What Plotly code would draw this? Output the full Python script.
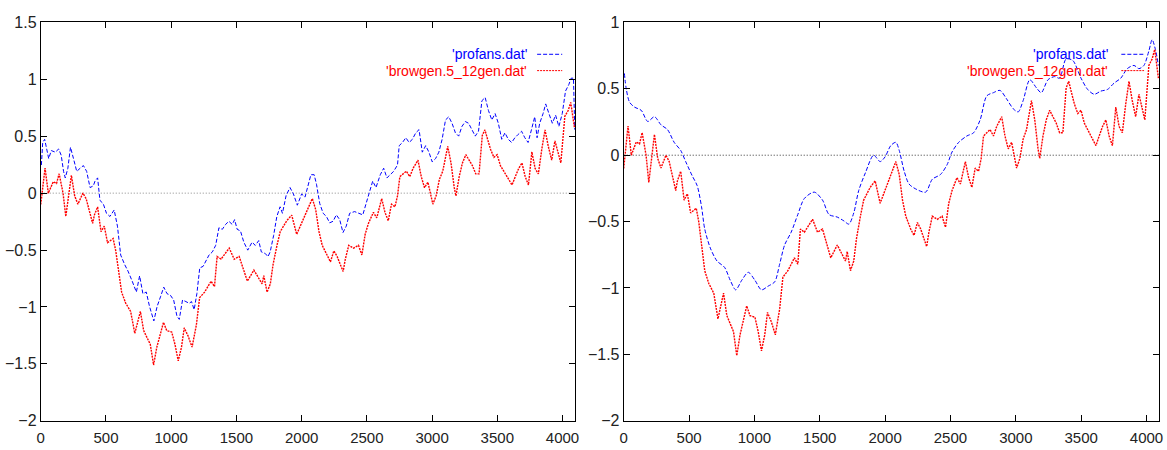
import plotly.graph_objects as go

# ---------------- data ----------------
# noisy series 'browgen.5_12gen.dat' (same in both panels)
red_x = [0, 33, 58, 96, 121, 141, 171, 192, 235, 260, 285, 323, 348, 373, 398, 411, 436, 462, 487, 512,
         555, 575, 595, 620, 651, 689, 721, 764, 789, 840, 865, 890, 941, 966, 1004, 1029, 1054, 1079, 1100, 1130,
         1160, 1193, 1218, 1256, 1306, 1332, 1352, 1382, 1445, 1483, 1521, 1559, 1584, 1634, 1672, 1697, 1710, 1735, 1760, 1781,
         1811, 1836, 1886, 1924, 1962, 2000, 2038, 2057, 2082, 2108, 2133, 2158, 2196, 2221, 2247, 2272, 2297, 2318, 2335, 2361,
         2399, 2436, 2462, 2487, 2512, 2550, 2576, 2614, 2639, 2664, 2689, 2715, 2735, 2753, 2778, 2803, 2829, 2854, 2892, 2917,
         2942, 2968, 3006, 3031, 3056, 3082, 3120, 3145, 3170, 3183, 3208, 3233, 3259, 3284, 3309, 3335, 3360, 3385, 3405, 3423,
         3448, 3474, 3499, 3524, 3550, 3575, 3613, 3638, 3664, 3689, 3714, 3739, 3765, 3790, 3815, 3841, 3866, 3891, 3917, 3942,
         3967, 3987, 4018, 4043, 4063, 4081, 4091]
red_y = [-0.10, 0.22, 0.00, 0.10, 0.085, 0.17, 0.00, -0.205, 0.157, -0.024, -0.097, 0.00, -0.048, -0.169, -0.266, -0.193, -0.121, -0.338, -0.29, -0.435,
         -0.399, -0.507, -0.676, -0.870, -0.966, -1.039, -1.232, -1.039, -1.208, -1.329, -1.510, -1.353, -1.135, -1.208, -1.220, -1.329, -1.473, -1.353, -1.184, -1.256,
         -1.353, -1.159, -0.918, -0.870, -0.773, -0.821, -0.556, -0.580, -0.483, -0.580, -0.556, -0.700, -0.773, -0.676, -0.749, -0.797, -0.725, -0.870, -0.797, -0.628,
         -0.459, -0.338, -0.242, -0.193, -0.362, -0.266, -0.169, -0.121, -0.048, -0.145, -0.338, -0.459, -0.556, -0.604, -0.507, -0.556, -0.628, -0.688, -0.580, -0.459,
         -0.483, -0.459, -0.543, -0.362, -0.266, -0.169, -0.217, -0.048, -0.169, -0.242, -0.097, -0.121, -0.024, 0.145, 0.169, 0.193, 0.145, 0.217, 0.290, 0.145,
         0.048, 0.097, -0.097, -0.024, 0.121, 0.193, 0.411, 0.266, 0.048, -0.024, 0.145, 0.266, 0.338, 0.290, 0.242, 0.169, 0.169, 0.507, 0.556, 0.483,
         0.386, 0.314, 0.338, 0.242, 0.193, 0.145, 0.072, 0.145, 0.217, 0.266, 0.145, 0.072, 0.362, 0.217, 0.169, 0.386, 0.556, 0.411, 0.290, 0.459,
         0.338, 0.266, 0.676, 0.725, 0.797, 0.652, 0.58]

# 'profans.dat' in the left panel
blueL_x = [5, 15, 30, 48, 61, 81, 112, 137, 157, 175, 188, 208, 228, 251, 276, 302, 327, 352, 378, 403,
           416, 436, 454, 479, 504, 530, 563, 588, 613, 644, 669, 700, 733, 758, 783, 809, 834, 867, 892, 918,
           943, 968, 994, 1019, 1044, 1062, 1087, 1113, 1138, 1156, 1176, 1197, 1219, 1245, 1265, 1290, 1316, 1341, 1366, 1392,
           1417, 1442, 1468, 1486, 1506, 1531, 1557, 1587, 1620, 1645, 1671, 1691, 1721, 1742, 1759, 1785, 1810, 1835, 1853, 1881,
           1911, 1937, 1967, 2000, 2026, 2051, 2071, 2096, 2114, 2139, 2165, 2190, 2215, 2241, 2266, 2292, 2317, 2342, 2368, 2406,
           2444, 2469, 2494, 2520, 2545, 2570, 2603, 2629, 2654, 2679, 2705, 2735, 2748, 2773, 2799, 2824, 2849, 2875, 2900, 2925,
           2951, 2976, 3001, 3027, 3052, 3077, 3103, 3128, 3153, 3179, 3204, 3229, 3255, 3280, 3306, 3331, 3356, 3382, 3407, 3432,
           3458, 3483, 3508, 3534, 3559, 3584, 3610, 3635, 3660, 3686, 3711, 3736, 3762, 3787, 3805, 3825, 3851, 3871, 3896, 3922,
           3947, 3972, 3998, 4023, 4048, 4066, 4084, 4094]
blueL_y = [0.247, 0.445, 0.473, 0.360, 0.304, 0.374, 0.360, 0.388, 0.332, 0.191, 0.134, 0.219, 0.403, 0.304, 0.191, 0.219, 0.242, 0.191, 0.049, 0.064,
           0.106, 0.134, -0.064, -0.092, -0.177, -0.205, -0.148, -0.290, -0.544, -0.629, -0.685, -0.770, -0.869, -0.727, -0.883, -0.869, -0.996, -1.123, -0.996, -0.911,
           -0.826, -0.883, -0.897, -0.939, -1.080, -1.109, -0.939, -0.953, -0.968, -0.953, -1.024, -0.883, -0.657, -0.643, -0.600, -0.544, -0.516, -0.459, -0.304, -0.318,
           -0.275, -0.247, -0.275, -0.233, -0.318, -0.332, -0.431, -0.501, -0.431, -0.459, -0.417, -0.516, -0.530, -0.558, -0.516, -0.374, -0.205, -0.120, -0.177, -0.021,
           0.049, -0.007, -0.106, -0.007, -0.035, 0.078, 0.162, 0.162, 0.078, -0.092, -0.177, -0.205, -0.261, -0.247, -0.191, -0.233, -0.346, -0.290, -0.177, -0.162,
           -0.177, -0.191, -0.092, 0.021, 0.106, 0.049, 0.162, 0.219, 0.134, 0.162, 0.191, 0.247, 0.417, 0.445, 0.487, 0.445, 0.473, 0.530, 0.558, 0.360,
           0.417, 0.360, 0.275, 0.304, 0.360, 0.473, 0.643, 0.671, 0.614, 0.530, 0.501, 0.586, 0.629, 0.614, 0.558, 0.501, 0.544, 0.812, 0.840, 0.727,
           0.643, 0.699, 0.614, 0.473, 0.530, 0.473, 0.445, 0.487, 0.516, 0.544, 0.487, 0.445, 0.558, 0.671, 0.487, 0.614, 0.699, 0.784, 0.699, 0.614,
           0.685, 0.586, 0.699, 0.897, 0.953, 1.010, 1.010, 0.558]

# 'profans.dat' in the right panel (smooth)
blueR_x = [5, 20, 45, 83, 134, 184, 235, 285, 335, 386, 436, 474, 525, 562, 595, 620, 663, 714, 772, 815,
           857, 903, 953, 1004, 1054, 1105, 1155, 1193, 1231, 1281, 1332, 1382, 1458, 1521, 1571, 1634, 1685, 1723, 1760, 1798,
           1849, 1912, 1962, 2000, 2043, 2082, 2108, 2146, 2183, 2234, 2310, 2361, 2424, 2474, 2512, 2563, 2626, 2677, 2727, 2778,
           2829, 2879, 2930, 2980, 3018, 3056, 3107, 3158, 3195, 3246, 3297, 3335, 3385, 3436, 3499, 3550, 3600, 3651, 3701, 3752,
           3803, 3853, 3904, 3942, 3980, 4018, 4043, 4068, 4091]
blueR_y = [0.616, 0.496, 0.399, 0.362, 0.338, 0.254, 0.290, 0.229, 0.193, 0.097, 0.036, -0.048, -0.157, -0.229, -0.386, -0.556, -0.700, -0.797, -0.845, -0.942,
           -1.014, -0.942, -0.882, -0.942, -1.014, -0.986, -0.954, -0.821, -0.676, -0.580, -0.447, -0.326, -0.278, -0.338, -0.447, -0.466, -0.495, -0.519, -0.435, -0.266,
           -0.133, 0.000, -0.048, -0.012, 0.072, 0.097, 0.036, -0.121, -0.217, -0.254, -0.278, -0.181, -0.145, -0.072, 0.024, 0.097, 0.145, 0.169, 0.266, 0.447,
           0.471, 0.488, 0.423, 0.350, 0.326, 0.411, 0.568, 0.507, 0.471, 0.568, 0.592, 0.580, 0.725, 0.713, 0.580, 0.495, 0.459, 0.483, 0.495, 0.543,
           0.580, 0.652, 0.676, 0.652, 0.676, 0.785, 0.870, 0.797, 0.676]

x_ticks = [0, 500, 1000, 1500, 2000, 2500, 3000, 3500, 4000]
yL_ticks = [-2, -1.5, -1, -0.5, 0, 0.5, 1, 1.5]
yR_ticks = [-2, -1.5, -1, -0.5, 0, 0.5, 1]
legend_names = ["'profans.dat'", "'browgen.5_12gen.dat'"]

BLUE = "#0000ff"
RED = "#ff0000"
FONT = "Liberation Sans, Arial, sans-serif"

fig = go.Figure()

# left panel
fig.add_trace(go.Scatter(x=blueL_x, y=blueL_y, mode="lines", xaxis="x", yaxis="y",
                         line=dict(color=BLUE, width=1, dash="4px,2px"), showlegend=False))
fig.add_trace(go.Scatter(x=red_x, y=red_y, mode="lines", xaxis="x", yaxis="y",
                         line=dict(color=RED, width=1.4, dash="2px,1px"), showlegend=False))
# right panel
fig.add_trace(go.Scatter(x=blueR_x, y=blueR_y, mode="lines", xaxis="x2", yaxis="y2",
                         line=dict(color=BLUE, width=1, dash="4px,2px", shape="spline", smoothing=0.8),
                         showlegend=False))
fig.add_trace(go.Scatter(x=red_x, y=red_y, mode="lines", xaxis="x2", yaxis="y2",
                         line=dict(color=RED, width=1.4, dash="2px,1px"), showlegend=False))

base = dict(showline=True, linecolor="black", linewidth=1, mirror="ticks",
            ticks="inside", ticklen=6, tickcolor="black", tickwidth=1,
            showgrid=False, zeroline=False)
xax = dict(base, tickfont=dict(family=FONT, size=15, color="#222"), ticklabelstandoff=3)
yax = dict(base, tickfont=dict(family=FONT, size=16, color="#222"))

YD = [0.0467, 0.9667]
fig.update_layout(
    width=1167, height=450,
    margin=dict(l=0, r=0, t=0, b=0),
    paper_bgcolor="white", plot_bgcolor="white",
    showlegend=False,
    xaxis=dict(domain=[0.0317, 0.4927], range=[0, 4096], tickvals=x_ticks, anchor="y", **xax),
    yaxis=dict(domain=YD, range=[-2, 1.5], tickvals=yL_ticks, anchor="x", **yax),
    xaxis2=dict(domain=[0.5347, 0.9966], range=[0, 4096], tickvals=x_ticks, anchor="y2", **xax),
    yaxis2=dict(domain=YD, range=[-2, 1], tickvals=yR_ticks, anchor="x2", **yax),
)

shapes = []
annotations = []
for xr, yr, zc in [("x", "y", "#888"), ("x2", "y2", "#333")]:
    # zero axis
    shapes.append(dict(type="line", xref=f"{xr} domain", yref=yr, x0=0, x1=1, y0=0, y1=0,
                       line=dict(color=zc, width=1, dash="1px,2px"), layer="below"))

# legends (gnuplot style: right-aligned text, sample to the right)
leg = [("x", "y", 0.9126, 0.929, 0.976), ("x2", "y2", 0.907, 0.9295, 0.972)]
for xr, yr, tx, s0, s1 in leg:
    for i, (name, col, dash) in enumerate([(legend_names[0], BLUE, "4px,2px"), (legend_names[1], RED, "2px,1px")]):
        yy = 0.920 - i * 0.041
        annotations.append(dict(xref=f"{xr} domain", yref=f"{yr} domain", x=tx, y=yy,
                                text=name, showarrow=False, xanchor="right", yanchor="middle",
                                borderpad=0,
                                font=dict(family=FONT, size=14, color=col)))
        shapes.append(dict(type="line", xref=f"{xr} domain", yref=f"{yr} domain",
                           x0=s0, x1=s1, y0=yy, y1=yy, line=dict(color=col, width=1, dash=dash)))

fig.update_layout(shapes=shapes, annotations=annotations)
fig.write_html("out.html")
